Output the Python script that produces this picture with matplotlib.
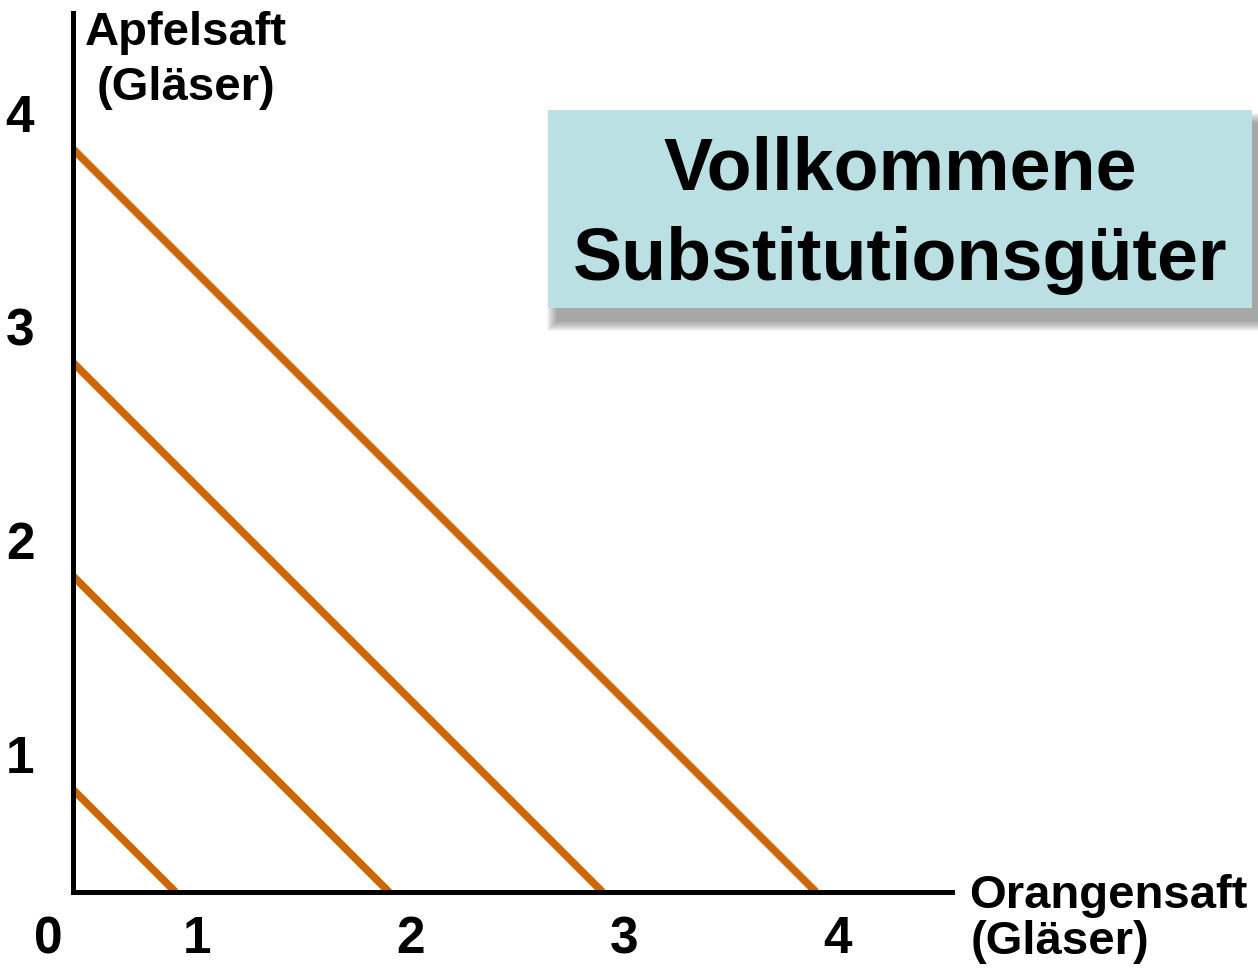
import matplotlib
matplotlib.use('Agg')
import matplotlib.pyplot as plt
from matplotlib.patches import Rectangle
import matplotlib.transforms as mtransforms
import numpy as np

plt.rcParams['font.family'] = ['Liberation Sans', 'DejaVu Sans']
plt.rcParams['font.weight'] = 'bold'

# ---- data ----
utility_levels = [1, 2, 3, 4]          # perfect substitutes: intercepts on both axes
x_ticks = [1, 2, 3, 4]
y_ticks = [1, 2, 3, 4]
x_label_lines = ['Orangensaft', '(Gläser)']
y_label_lines = ['Apfelsaft', '(Gläser)']
title_lines = ['Vollkommene', 'Substitutionsgüter']
origin_label = '0'

W, H = 1258, 973
fig = plt.figure(figsize=(W / 100, H / 100), dpi=100)


def fx(px):
    return px / W


def fy(py):
    return 1 - py / H


ax = fig.add_axes([fx(73), fy(892), fx(952) - fx(73), fy(13) - fy(892)])
ax.set_xlim(0.52, 4.637)
ax.set_ylim(0.52, 4.637)
x0 = ax.get_xlim()[0]
y0 = ax.get_ylim()[0]

line_color = '#CC6600'
for k in utility_levels:
    # straight line joining the intercept on the y-axis with the one on the x-axis
    ax.plot([x0, k], [k, y0], color=line_color, lw=5.5, solid_capstyle='butt', zorder=2)

for side in ['top', 'right']:
    ax.spines[side].set_visible(False)
for side in ['left', 'bottom']:
    ax.spines[side].set_linewidth(3.6)
    ax.spines[side].set_color('black')
    ax.spines[side].set_capstyle('projecting')
    ax.spines[side].set_zorder(3)
ax.set_xticks([])
ax.set_yticks([])
ax.patch.set_alpha(0)

# tick labels
tick_fs = 37
xoff = mtransforms.ScaledTranslation(22 / 100, -61 / 100, fig.dpi_scale_trans)
for k in x_ticks:
    ax.text(k, 0, str(k), transform=ax.get_xaxis_transform() + xoff,
            ha='center', va='baseline', fontsize=tick_fs, fontweight='bold', clip_on=False)
yoff = mtransforms.ScaledTranslation(-53 / 100, 17 / 100, fig.dpi_scale_trans)
for k in y_ticks:
    ax.text(0, k, str(k), transform=ax.get_yaxis_transform() + yoff,
            ha='center', va='baseline', fontsize=tick_fs, fontweight='bold', clip_on=False)
ooff = mtransforms.ScaledTranslation(-25 / 100, -61 / 100, fig.dpi_scale_trans)
ax.text(0, 0, origin_label, transform=ax.transAxes + ooff, ha='center', va='baseline',
        fontsize=tick_fs, fontweight='bold', clip_on=False)

# axis labels
lab_fs = 34
fig.text(fx(186), fy(45), y_label_lines[0], ha='center', va='baseline', fontsize=lab_fs, fontweight='bold')
fig.text(fx(186), fy(100), y_label_lines[1], ha='center', va='baseline', fontsize=lab_fs, fontweight='bold')
fig.text(fx(969), fy(908), x_label_lines[0], ha='left', va='baseline', fontsize=lab_fs, fontweight='bold')
fig.text(fx(971), fy(954), x_label_lines[1], ha='left', va='baseline', fontsize=lab_fs, fontweight='bold')

# title box with soft shadow
bx0, bx1, by0, by1 = 548, 1252, 110, 308
sdx, sdy = 9, 13
for r in np.linspace(10, 0, 11):
    fig.patches.append(Rectangle((fx(bx0 + sdx - r), fy(by1 + sdy + r)),
                                 (bx1 - bx0 + 2 * r) / W, (by1 - by0 + 2 * r) / H,
                                 transform=fig.transFigure, facecolor='#606060',
                                 edgecolor='none', alpha=0.065, zorder=1))
fig.patches.append(Rectangle((fx(bx0), fy(by1)), (bx1 - bx0) / W, (by1 - by0) / H,
                             transform=fig.transFigure, facecolor='#BAE0E3',
                             edgecolor='none', zorder=2))
fig.text(fx(900), fy(190), title_lines[0], ha='center', va='baseline', fontsize=53,
         fontweight='bold', zorder=3)
fig.text(fx(900), fy(280), title_lines[1], ha='center', va='baseline', fontsize=53,
         fontweight='bold', zorder=3)

fig.savefig('out.png', dpi=100)
